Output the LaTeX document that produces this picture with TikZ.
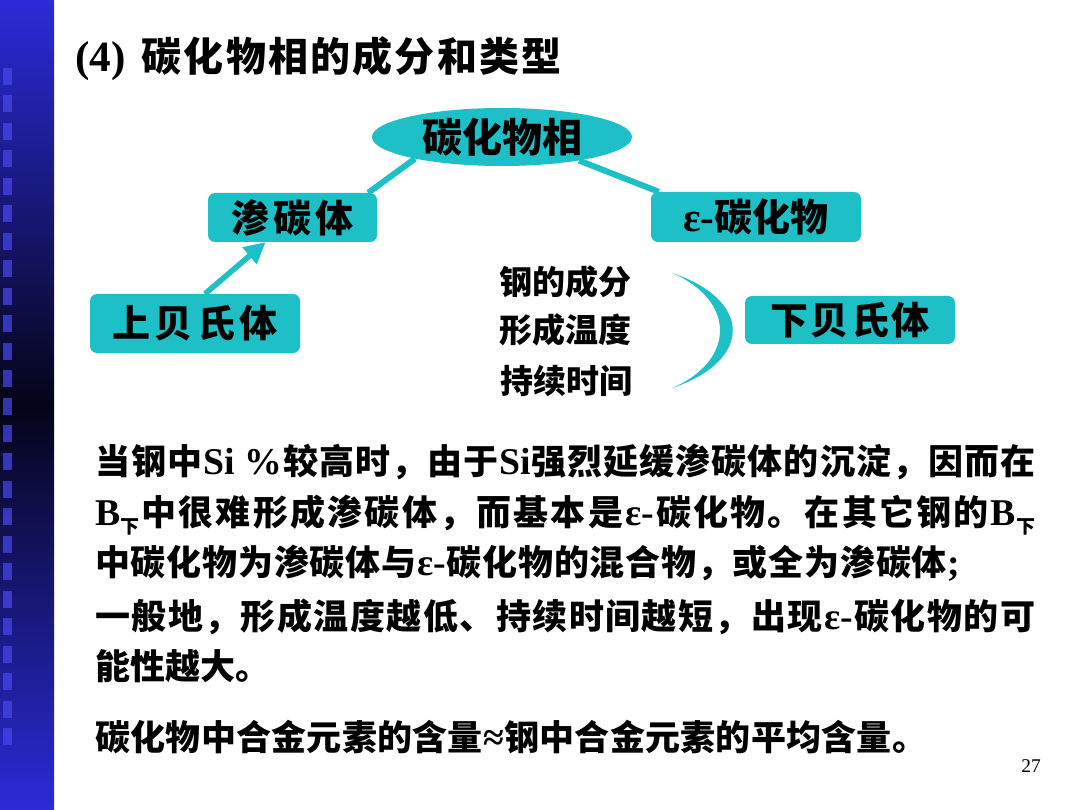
\documentclass[tikz,border=0pt]{standalone}
\usepackage{fontspec}
\setmainfont{Noto Sans CJK SC}
\newfontfamily\latfont{Liberation Serif}[Scale=1.08]
\usetikzlibrary{arrows.meta,shapes.geometric}
\definecolor{teal1}{RGB}{28,192,198}
\definecolor{barblue}{RGB}{51,51,255}
\definecolor{bardark}{RGB}{4,4,24}
\definecolor{sqblue}{RGB}{72,72,240}
\newcommand\lat[1]{{\latfont\bfseries #1}}
\newcommand\subx{\raisebox{-9pt}{\fontsize{19}{19}\selectfont 下}}
\def\spread#1{\spreadB#1\relax}
\def\spreadB#1{#1\spreadC}
\def\spreadC#1{\ifx\relax#1\else\hfil#1\expandafter\spreadC\fi}
\pgfdeclareverticalshading{barshade}{100bp}{color(0bp)=(barblue); color(20bp)=(barblue); color(50bp)=(bardark); color(80bp)=(barblue); color(100bp)=(barblue)}
\tikzset{
  lbl/.style={font=\fontsize{38}{38}\selectfont\bfseries},
  tbox/.style={fill=teal1, rounded corners=7pt, inner sep=0pt, lbl},
  conn/.style={teal1, line width=6pt},
  body/.style={anchor=base west, inner sep=0pt, font=\fontsize{35}{35}\selectfont\bfseries},
  mid/.style={inner sep=0pt, font=\fontsize{33}{33}\selectfont\bfseries},
}
\begin{document}
\begin{tikzpicture}[x=1pt,y=-1pt]
\useasboundingbox (0,0) rectangle (1080,810);
\fill[white] (0,0) rectangle (1080,810);
% left bar
\shade[shading=barshade] (0,0) rectangle (54,810);
\foreach \i in {0,...,24} \fill[sqblue,opacity=0.7] (3,68+27.5*\i) rectangle ++(9,17);
% title
\node[anchor=base west, inner sep=0pt, font=\fontsize{40}{40}\selectfont\bfseries] (title) at (75,72)
  {\lat{(4)}\hspace{16pt}\hbox to 420pt{\spread{碳化物相的成分和类型}}};
% diagram
\node[ellipse, fill=teal1, minimum width=260pt, minimum height=58pt, inner sep=0pt,
      font=\fontsize{40}{40}\selectfont\bfseries] (ell) at (502,137) {碳化物相};
\node[tbox, minimum width=169pt, minimum height=49pt] (cem) at (292.5,217.5) {\hbox to 123pt{\spread{渗碳体}}};
\node[tbox, minimum width=210pt, minimum height=50pt] (eps) at (756,217) {\lat{ε-}碳化物};
\node[tbox, minimum width=210pt, minimum height=59pt] (ub) at (195,323.5) {\hbox to 165pt{\spread{上贝氏体}}};
\node[tbox, minimum width=210pt, minimum height=48pt] (lb) at (850,320) {\hbox to 160pt{\spread{下贝氏体}}};
\node[mid] (t1) at (565,282) {钢的成分};
\node[mid] (t2) at (565,330) {形成温度};
\node[mid] (t3) at (566,381) {持续时间};
\fill[teal1] (672,273) .. controls (753,300) and (753,361) .. (672,388)
             .. controls (736,361) and (736,300) .. (672,273);
\draw[conn] (ell.194) -- ([xshift=-9pt]cem.north east);
\draw[conn] (ell.-17) -- ([xshift=8pt]eps.north west);
\draw[teal1, line width=5.5pt, -{Triangle[length=21pt,width=21pt]}] ([xshift=10pt]ub.north) -- ([xshift=-27pt]cem.south);
% body text
\node[body] (l1) at (95,475) {\hbox to 940pt{\spread{当钢中{\lat{Si~\%}}较高时，由于{\lat{Si}}强烈延缓渗碳体的沉淀，因而在}}};
\node[body] (l2) at (95,525) {\hbox to 940pt{\spread{{\lat{B}\subx}中很难形成渗碳体，而基本是{\lat{ε-}}碳化物。在其它钢的{\lat{B}\subx}}}};
\node[body] (l3) at (95,575) {\hbox to 865pt{\spread{中碳化物为渗碳体与{\lat{ε-}}碳化物的混合物，或全为渗碳体{\lat{;}}}}};
\node[body] (l4) at (95,629) {\hbox to 940pt{\spread{一般地，形成温度越低、持续时间越短，出现{\lat{ε-}}碳化物的可}}};
\node[body] (l5) at (95,679) {能性越大。};
\node[body] (l6) at (95,750) {\hbox to 832pt{\spread{碳化物中合金元素的含量{\lat{≈}}钢中合金元素的平均含量。}}};
\node[inner sep=0pt, font=\latfont\fontsize{18}{18}\selectfont] (pg) at (1031,766) {27};
\end{tikzpicture}
\end{document}
